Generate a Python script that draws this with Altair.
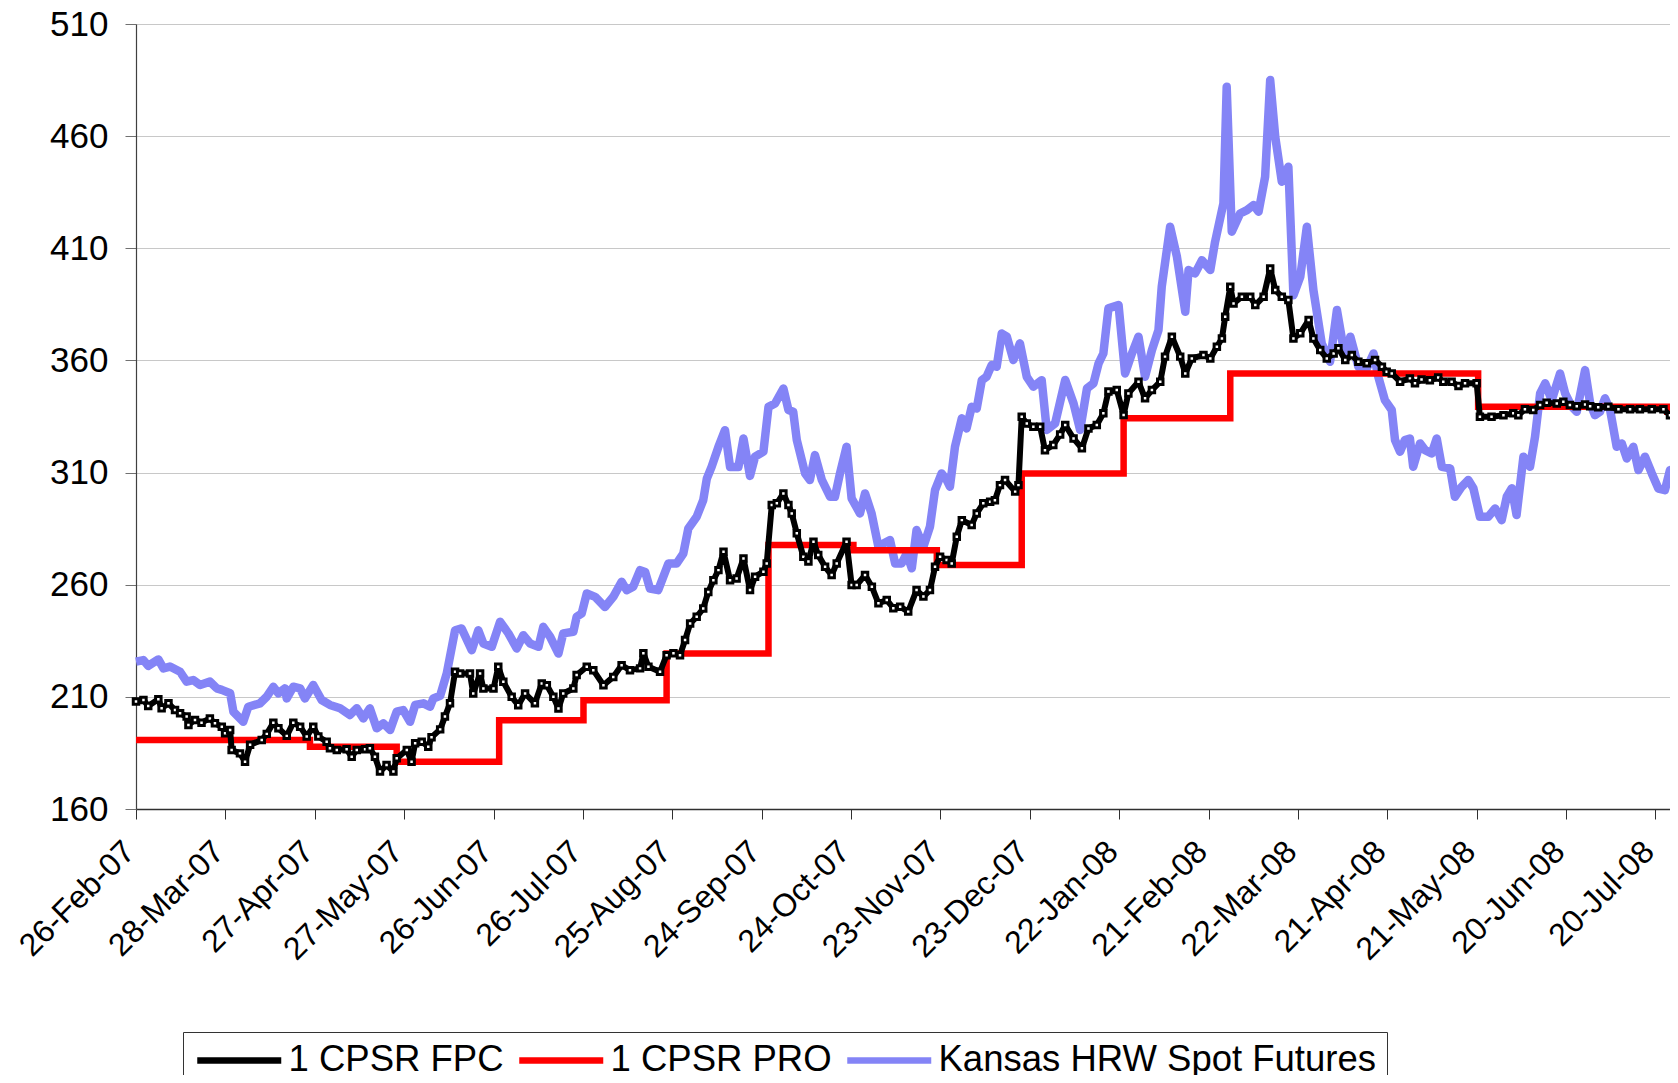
import altair as alt
import pandas as pd

# ---- data (day = days since 26-Feb-07) ----
FPC_DAY = [0, 2.5, 4.1, 7.5, 8.6, 10.9, 13.1, 14.8, 17.0, 17.6, 19.8, 22.0, 24.8, 26.5, 28.8, 29.9, 31.6, 32.1,
           34.9, 36.6, 38.3, 42.2, 43.9, 46.1, 47.8, 50.6, 52.8, 55.1, 57.3, 59.5, 61.2, 64.0, 65.1, 67.4, 70.7,
           72.4, 74.1, 76.9, 78.5, 80.2, 81.9, 84.1, 86.4, 87.5, 90.9, 92.5, 93.7, 95.9, 98.1, 99.2, 102.1, 103.7,
           105.4, 107.1, 108.8, 112.1, 113.2, 115.5, 116.6, 120.0, 121.6, 123.3, 126.1, 128.3, 130.6, 133.9,
           136.2, 137.9, 140.1, 141.8, 143.4, 146.8, 147.9, 151.3, 153.5, 156.9, 160.2, 163.0, 165.8, 169.2,
           170.3, 172.0, 175.9, 178.1, 180.4, 182.6, 184.3, 186.0, 188.2, 190.4, 192.1, 193.8, 195.5, 197.2,
           199.4, 201.6, 203.9, 206.1, 207.8, 210.6, 211.7, 213.4, 215.1, 217.3, 219.0, 220.1, 221.8, 224.0,
           225.7, 227.4, 229.0, 231.3, 233.5, 235.2, 238.5, 240.2, 241.9, 244.7, 247.0, 249.2, 252.0, 254.2,
           256.5, 259.2, 262.0, 264.3, 266.5, 268.2, 269.9, 272.1, 273.8, 275.5, 277.2, 280.5, 282.2, 284.4,
           286.7, 288.3, 290.0, 291.7, 295.1, 296.2, 297.3, 299.0, 301.2, 303.5, 305.1, 307.9, 310.2, 311.9,
           314.7, 317.5, 319.7, 322.5, 324.7, 326.4, 329.2, 331.5, 333.1, 336.5, 338.7, 341.0, 343.8, 345.4,
           347.7, 350.5, 352.2, 354.4, 358.3, 360.6, 362.8, 364.5, 365.6, 367.3, 368.4, 371.2, 374.0, 375.7,
           378.5, 380.7, 382.4, 384.6, 386.8, 388.5, 390.8, 393.6, 395.2, 397.5, 399.7, 402.0, 403.6, 405.9,
           408.1, 410.3, 413.1, 415.9, 418.2, 419.8, 421.5, 424.3, 427.6, 429.3, 431.5, 434.3, 437.1, 438.8,
           441.6, 443.9, 446.1, 450.0, 451.1, 455.0, 459.0, 462.3, 464.0, 466.2, 469.0, 471.3, 473.5, 476.9,
           479.1, 481.3, 483.6, 486.4, 488.1, 490.8, 494.2, 497.6, 501.5, 504.8, 508.8, 512.7, 514.9, 517.6]
FPC_VAL = [207.9, 208.6, 205.9, 208.9, 204.9, 207.1, 204.1, 202.7, 201.2, 197.5, 199.7, 198.5, 200.4, 198.2,
           196.7, 193.8, 195.2, 186.3, 184.8, 181.1, 188.6, 190.8, 193.5, 198.5, 196.0, 192.6, 198.5, 196.7,
           192.3, 196.7, 192.3, 190.0, 187.1, 186.3, 186.6, 183.3, 186.3, 186.6, 187.1, 183.3, 176.7, 179.6,
           176.7, 182.6, 186.3, 181.1, 189.3, 190.0, 187.8, 192.0, 195.5, 201.2, 207.1, 221.2, 220.4, 220.4,
           211.5, 220.4, 213.7, 213.7, 223.4, 216.7, 210.0, 206.3, 211.5, 207.1, 216.0, 215.2, 210.0, 204.8,
           211.5, 213.7, 219.7, 223.4, 221.9, 215.2, 218.9, 224.1, 221.9, 222.7, 229.4, 223.4, 221.2, 228.6,
           229.4, 228.6, 235.3, 242.7, 245.7, 249.4, 256.8, 262.0, 266.5, 274.7, 262.0, 262.8, 271.7, 257.6,
           263.6, 265.8, 269.5, 295.5, 296.3, 300.7, 295.5, 291.8, 282.9, 272.5, 270.3, 279.2, 273.2, 268.0,
           264.3, 269.5, 279.2, 259.9, 259.9, 264.3, 259.1, 251.7, 253.2, 249.5, 250.2, 248.0, 257.6, 254.7,
           257.6, 268.0, 272.5, 271.0, 269.5, 281.4, 288.8, 286.6, 291.8, 296.3, 297.0, 297.7, 304.4, 306.7,
           301.5, 304.4, 334.9, 331.9, 330.4, 330.4, 320.0, 322.3, 327.0, 331.2, 325.2, 320.8, 329.7, 331.2,
           336.4, 346.1, 346.8, 335.7, 345.3, 350.5, 343.1, 346.8, 350.5, 361.7, 370.6, 361.7, 354.2, 360.9,
           362.4, 360.9, 366.1, 369.8, 379.5, 392.9, 385.4, 388.4, 388.4, 384.7, 388.4, 401.0, 391.4, 388.4,
           386.9, 369.8, 372.1, 378.0, 369.8, 364.6, 360.9, 363.1, 365.4, 360.2, 362.4, 359.4, 358.7, 360.2,
           357.2, 355.0, 354.2, 350.5, 352.0, 349.8, 351.5, 351.2, 352.4, 350.5, 350.5, 348.6, 349.8, 349.8,
           334.9, 334.9, 335.6, 336.4, 335.6, 338.2, 337.9, 340.1, 341.1, 340.8, 341.6, 340.1, 339.6, 340.4,
           339.6, 339.1, 339.4, 338.2, 338.2, 338.2, 338.2, 338.2, 335.6, 335.6]

PRO_DAY = [0, 58.4, 87.5, 121.9, 150.2, 178.1, 212.3, 240.8, 268.8, 297.3, 331.5, 367.3, 450.5, 514.0, 517.6]
PRO_VAL = [190.8, 187.8, 181.1, 199.6, 208.5, 229.3, 277.7, 275.4, 268.8, 309.6, 334.2, 354.2, 339.4, 337.1, 337.1]

KS_DAY = [0, 2.5, 4.1, 7.5, 9.2, 11.4, 14.8, 17.0, 19.2, 21.5, 24.8, 27.1, 28.8, 31.6, 32.7, 36.0, 37.7, 41.6,
          43.9, 46.1, 47.8, 50.0, 50.6, 52.8, 55.1, 56.7, 59.5, 62.3, 65.1, 68.5, 71.8, 74.1, 76.3, 78.5, 80.8,
          83.0, 85.3, 87.5, 89.7, 92.0, 93.7, 96.5, 98.7, 99.8, 102.1, 104.3, 107.1, 109.3, 112.7, 114.9, 116.6,
          119.4, 122.2, 125.0, 127.8, 130.0, 132.3, 135.1, 136.7, 139.0, 141.8, 143.4, 146.8, 147.9, 149.6,
          151.3, 154.1, 157.4, 160.2, 163.0, 164.7, 166.9, 169.2, 170.9, 172.5, 175.3, 178.7, 181.5, 183.7,
          185.4, 188.2, 190.4, 191.6, 193.2, 195.5, 197.7, 199.4, 202.2, 203.9, 206.1, 207.8, 210.6, 212.3,
          214.5, 217.3, 219.0, 220.6, 221.8, 224.6, 226.2, 227.9, 230.2, 233.0, 234.6, 236.3, 238.5, 240.2,
          243.0, 244.7, 246.9, 249.2, 250.9, 253.1, 254.8, 257.0, 258.7, 260.4, 262.0, 264.3, 266.5, 268.2,
          270.4, 272.1, 273.2, 274.9, 277.2, 278.8, 280.5, 282.2, 283.9, 285.5, 287.2, 288.9, 290.6, 292.3,
          294.5, 296.7, 299.0, 301.2, 304.0, 305.7, 308.5, 311.9, 314.7, 316.9, 319.2, 321.4, 323.1, 324.7,
          326.4, 329.8, 332.0, 334.3, 336.5, 338.7, 341.0, 343.2, 344.3, 347.1, 349.4, 352.2, 353.3, 355.5,
          357.8, 360.6, 362.2, 365.0, 366.1, 367.8, 370.6, 372.9, 375.1, 376.8, 379.0, 380.7, 382.4, 384.6,
          386.8, 388.5, 390.8, 393.0, 395.2, 398.0, 400.8, 403.1, 405.9, 407.6, 410.3, 412.6, 415.4, 417.0,
          419.2, 421.5, 422.6, 424.3, 425.9, 427.6, 428.7, 431.0, 432.7, 434.9, 436.6, 438.3, 441.1, 442.7,
          445.0, 447.2, 448.9, 451.1, 453.9, 456.2, 458.4, 460.1, 461.8, 463.4, 465.7, 467.9, 469.6, 471.3,
          473.0, 475.2, 478.0, 479.7, 481.9, 483.6, 486.4, 488.1, 489.7, 491.4, 493.1, 494.8, 497.0, 498.7,
          500.4, 502.6, 504.3, 506.5, 508.8, 511.0, 513.2, 514.9, 517.6]
KS_VAL = [225.7, 226.4, 223.8, 226.7, 222.7, 223.5, 221.2, 216.8, 217.5, 215.3, 216.8, 213.8, 213.1, 211.6,
          203.4, 198.9, 205.6, 207.1, 210.1, 214.5, 211.6, 213.8, 209.3, 214.5, 213.8, 209.3, 215.3, 208.6,
          206.4, 204.9, 201.9, 204.9, 200.4, 204.9, 196.0, 198.2, 195.2, 203.4, 204.1, 198.9, 206.4, 207.1,
          205.6, 209.3, 210.5, 220.4, 239.7, 240.5, 230.8, 239.7, 233.8, 232.3, 243.5, 238.3, 231.6, 237.5,
          233.8, 232.3, 241.2, 236.8, 229.3, 238.3, 239.0, 245.7, 247.2, 256.1, 254.6, 250.1, 254.6, 261.3,
          257.6, 259.1, 266.5, 265.7, 258.3, 257.6, 269.5, 269.5, 273.9, 285.1, 290.3, 297.7, 307.3, 312.5,
          321.5, 328.9, 312.5, 312.5, 325.2, 308.5, 317.1, 319.3, 339.3, 340.8, 347.5, 337.9, 337.1, 324.5,
          309.6, 306.7, 317.8, 306.7, 299.2, 299.2, 309.6, 321.5, 298.5, 291.8, 300.7, 291.8, 276.9, 278.4,
          279.9, 269.5, 269.5, 274.0, 267.3, 284.4, 276.9, 285.9, 302.2, 309.6, 306.7, 303.7, 321.5, 334.2,
          329.7, 339.3, 338.6, 351.2, 352.7, 357.9, 357.2, 372.0, 370.6, 360.2, 367.6, 352.7, 348.3, 351.2,
          329.0, 331.9, 351.3, 340.8, 329.0, 347.5, 349.8, 358.7, 363.1, 383.2, 384.7, 354.2, 363.1, 370.6,
          352.7, 364.6, 373.5, 392.9, 419.6, 406.2, 381.7, 400.3, 398.8, 404.7, 400.3, 412.9, 430.0, 482.0,
          417.4, 425.5, 427.0, 429.3, 426.3, 441.9, 485.0, 459.7, 439.7, 446.4, 389.1, 397.3, 419.6, 391.4,
          367.6, 359.4, 382.5, 360.9, 370.6, 357.2, 355.0, 363.1, 352.7, 342.3, 337.9, 324.5, 319.3, 324.5,
          325.2, 312.6, 323.0, 320.0, 318.5, 325.2, 312.6, 311.9, 299.2, 303.7, 306.7, 303.0, 290.3, 290.3,
          294.0, 288.8, 299.2, 303.0, 291.1, 317.1, 312.6, 326.0, 345.3, 349.8, 342.3, 354.2, 345.3, 339.4,
          337.1, 355.7, 340.8, 335.6, 337.1, 343.1, 337.9, 321.5, 323.0, 316.3, 321.5, 311.1, 317.1, 309.6,
          302.9, 302.2, 311.1, 311.9]

SERIES = ["1 CPSR FPC", "1 CPSR PRO", "Kansas HRW Spot Futures"]
COLORS = ["#000000", "#ff0000", "#8484f6"]
X_TICK_LABELS = ["26-Feb-07", "28-Mar-07", "27-Apr-07", "27-May-07", "26-Jun-07", "26-Jul-07", "25-Aug-07",
                 "24-Sep-07", "24-Oct-07", "23-Nov-07", "23-Dec-07", "22-Jan-08", "21-Feb-08", "22-Mar-08",
                 "21-Apr-08", "21-May-08", "20-Jun-08", "20-Jul-08"]
X_TICK_DAYS = [30 * i for i in range(len(X_TICK_LABELS))]
Y_TICKS = [160, 210, 260, 310, 360, 410, 460, 510]

fpc = pd.DataFrame({"day": FPC_DAY, "price": FPC_VAL, "series": SERIES[0]})
pro = pd.DataFrame({"day": PRO_DAY, "price": PRO_VAL, "series": SERIES[1]})
ks = pd.DataFrame({"day": KS_DAY, "price": KS_VAL, "series": SERIES[2]})

FONT = "Liberation Sans"
label_array = "[" + ",".join("'%s'" % s for s in X_TICK_LABELS) + "]"

x_enc = alt.X(
    "day:Q",
    scale=alt.Scale(domain=[0, 514.9], nice=False, zero=False),
    axis=alt.Axis(
        values=X_TICK_DAYS, labelExpr=label_array + "[round(datum.value/30)]", title=None, grid=False,
        labelAngle=315, labelAlign="right", labelBaseline="middle", labelFont=FONT, labelFontSize=32,
        labelColor="black", labelPadding=27, labelOffset=-7, labelOverlap=False, labelFlush=False,
        tickSize=10, tickColor="#303030", tickWidth=1, domainColor="#303030", domainWidth=1.5,
    ),
)
y_enc = alt.Y(
    "price:Q",
    scale=alt.Scale(domain=[160, 510], nice=False, zero=False),
    axis=alt.Axis(
        values=Y_TICKS, title=None, grid=True, gridColor="#c8c8c8", gridWidth=1,
        labelFont=FONT, labelFontSize=35, labelColor="black", labelPadding=17,
        tickSize=11, tickColor="#707070", tickWidth=1, domainColor="#404040", domainWidth=1.2,
    ),
)
color_enc = alt.Color(
    "series:N",
    scale=alt.Scale(domain=SERIES, range=COLORS),
    legend=alt.Legend(
        title=None, orient="none", legendX=47, legendY=1008, direction="horizontal", columns=3,
        symbolType="M-1,0H5", symbolSize=784, symbolStrokeWidth=6.5, labelFont=FONT, labelFontSize=36.5,
        labelColor="black", labelOffset=59, columnPadding=2, padding=10, labelLimit=1000,
        strokeColor="#333333", fillColor="white",
    ),
)

ks_line = alt.Chart(ks).mark_line(strokeWidth=8.5, strokeJoin="round").encode(x=x_enc, y=y_enc, color=color_enc)
pro_line = alt.Chart(pro).mark_line(strokeWidth=6.5, interpolate="step-after", strokeJoin="miter").encode(
    x=x_enc, y=y_enc, color=color_enc)
fpc_line = alt.Chart(fpc).mark_line(strokeWidth=6, strokeJoin="round").encode(x=x_enc, y=y_enc, color=color_enc)
fpc_pts = alt.Chart(fpc).mark_point(shape="square", size=30, filled=True, fill="white", stroke="black",
                                    strokeWidth=3, opacity=1).encode(x=x_enc, y=y_enc)

chart = alt.layer(ks_line, pro_line, fpc_line, fpc_pts).properties(
    width=1534, height=785,
    autosize=alt.AutoSizeParams(type="none"),
    padding={"left": 128, "top": 16, "right": 0, "bottom": 266},
).configure_view(stroke=None).configure(background="white")

chart.save("out.html", embed_options={"renderer": "svg", "actions": False})
